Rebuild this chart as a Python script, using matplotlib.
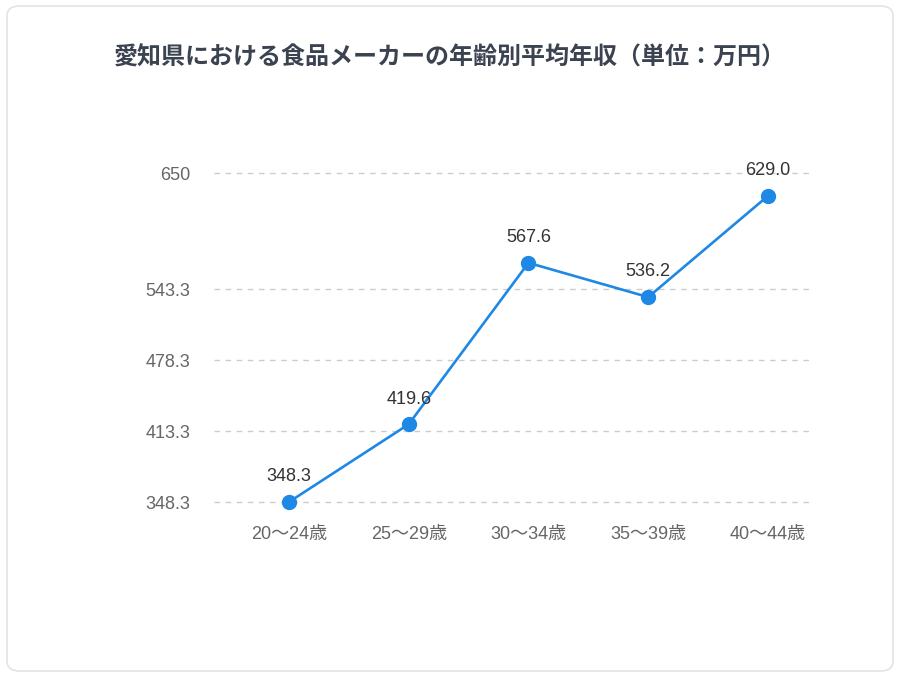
import matplotlib
matplotlib.use("Agg")
import matplotlib.pyplot as plt
from matplotlib.patches import FancyBboxPatch

plt.rcParams['font.family'] = ['Noto Sans CJK JP', 'DejaVu Sans']

# data
ages = ["20～24歳", "25～29歳", "30～34歳", "35～39歳", "40～44歳"]
income = [348.3, 419.6, 567.6, 536.2, 629.0]
yticks = [348.3, 413.3, 478.3, 543.3, 650]
title = "愛知県における食品メーカーの年齢別平均年収（単位：万円）"

W, H = 900, 677
fig = plt.figure(figsize=(W / 100, H / 100), dpi=100)
fig.patch.set_facecolor("white")

# card background with soft border
card = FancyBboxPatch((7 / W, 6 / H), 886 / W, 665 / H,
                      boxstyle="round,pad=0,rounding_size=0.014",
                      transform=fig.transFigure, facecolor="white",
                      edgecolor="#e4e4e4", linewidth=1.2, zorder=-10)
fig.patches.append(card)

# axes placed in pixel coords: left 214, right 813, top 173, bottom 502
ax = fig.add_axes([214 / W, 1 - 502 / H, (813 - 214) / W, (502 - 173) / H])
ax.set_facecolor("none")
ax.set_zorder(5)

latin = ['Liberation Sans', 'Noto Sans CJK JP', 'DejaVu Sans']

x = list(range(len(ages)))
ax.plot(x, income, color="#1e88e5", linewidth=1.9, marker="o",
        markersize=10, clip_on=False, zorder=3)
for xi, v in zip(x, income):
    ax.annotate(f"{v:.1f}", (xi, v), xytext=(0, 12), textcoords="offset points",
                ha="center", va="bottom", fontsize=13, color="#333333",
                family=latin)

ax.set_xlim(-0.626, 4.376)
ax.set_ylim(348.3, 650)
ax.set_yticks(yticks)
ax.set_yticklabels([f"{t:g}" for t in yticks], family=latin)
ax.set_xticks(x)
ax.set_xticklabels(ages, family=latin)
ax.tick_params(axis="both", length=0, labelsize=13, colors="#666666")
ax.tick_params(axis="y", pad=17)
ax.tick_params(axis="x", pad=17)
ax.grid(axis="y", color="#cccccc", linestyle=(0, (4, 4)), linewidth=1)
ax.grid(axis="x", visible=False)
for gl in ax.get_ygridlines():
    gl.set_clip_on(False)
for s in ax.spines.values():
    s.set_visible(False)

fig.text(0.5, 1 - 58 / H, title, ha="center", va="center", fontsize=17.3,
         fontweight="bold", color="#3c4350")

fig.savefig("out.png", dpi=100)
